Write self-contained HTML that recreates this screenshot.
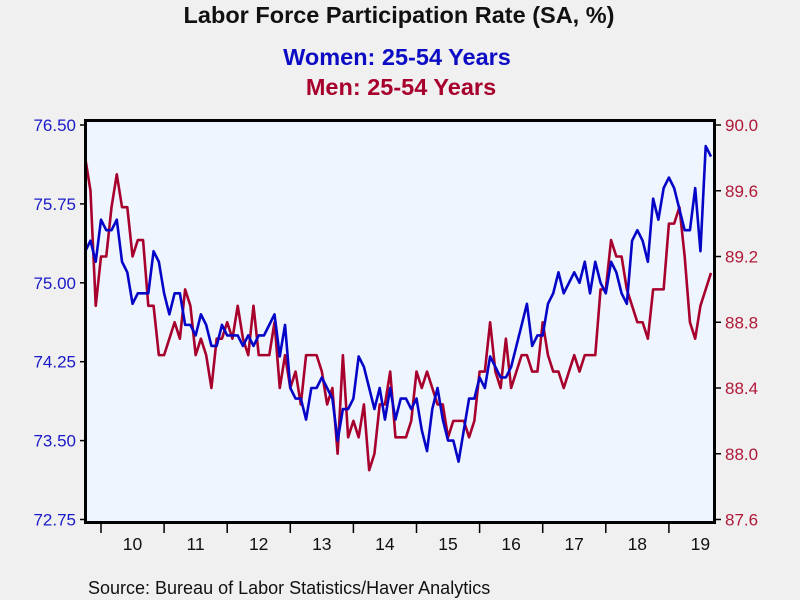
<!DOCTYPE html>
<html><head><meta charset="utf-8"><style>
body{margin:0;background:#f0f0f0;}
svg{display:block;font-family:"Liberation Sans",Arial,sans-serif;}
</style></head><body>
<svg id="chart" width="800" height="600" viewBox="0 0 800 600" xmlns="http://www.w3.org/2000/svg">
<rect x="0" y="0" width="800" height="600" fill="#f0f0f0"/>
<text x="399" y="23" text-anchor="middle" font-size="23.5" font-weight="bold" fill="#111">Labor Force Participation Rate (SA, %)</text>
<text x="397" y="65" text-anchor="middle" font-size="23.5" font-weight="bold" fill="#0c0cc4">Women: 25-54 Years</text>
<text x="401" y="95" text-anchor="middle" font-size="23.5" font-weight="bold" fill="#a8002c">Men: 25-54 Years</text>
<rect x="85.5" y="120.5" width="629" height="402" fill="#eef5ff"/>
<g id="axes"></g>
<g id="series"></g>
<rect x="85.5" y="120.5" width="629" height="402" fill="none" stroke="#000" stroke-width="3"/>
<text x="88" y="594" font-size="18" fill="#111">Source:  Bureau of Labor Statistics/Haver Analytics</text>
</svg>
<script>
const yearLabels=["10","11","12","13","14","15","16","17","18","19"];
const leftTicks=[72.75,73.50,74.25,75.00,75.75,76.50];
const rightTicks=[87.6,88.0,88.4,88.8,89.2,89.6,90.0];
const women=[75.3,75.4,75.2,75.6,75.5,75.5,75.6,75.2,75.1,74.8,74.9,74.9,74.9,75.3,75.2,74.9,74.7,74.9,74.9,74.6,74.6,74.5,74.7,74.6,74.4,74.4,74.6,74.5,74.5,74.5,74.4,74.5,74.4,74.5,74.5,74.6,74.7,74.3,74.6,74.0,73.9,73.9,73.7,74.0,74.0,74.1,74.0,73.9,73.5,73.8,73.8,73.9,74.3,74.2,74.0,73.8,74.0,73.7,74.0,73.7,73.9,73.9,73.8,73.9,73.6,73.4,73.8,74.0,73.7,73.5,73.5,73.3,73.6,73.9,73.9,74.1,74.0,74.3,74.2,74.1,74.1,74.2,74.4,74.6,74.8,74.4,74.5,74.5,74.8,74.9,75.1,74.9,75.0,75.1,75.0,75.2,74.9,75.2,75.0,74.9,75.2,75.1,74.9,74.8,75.4,75.5,75.4,75.2,75.8,75.6,75.9,76.0,75.9,75.7,75.5,75.5,75.9,75.3,76.3,76.2];
const men=[89.8,89.6,88.9,89.2,89.2,89.5,89.7,89.5,89.5,89.2,89.3,89.3,88.9,88.9,88.6,88.6,88.7,88.8,88.7,89.0,88.9,88.6,88.7,88.6,88.4,88.7,88.7,88.8,88.7,88.9,88.7,88.6,88.9,88.6,88.6,88.6,88.8,88.4,88.6,88.4,88.5,88.3,88.6,88.6,88.6,88.5,88.3,88.4,88.0,88.6,88.1,88.2,88.1,88.3,87.9,88.0,88.3,88.3,88.5,88.1,88.1,88.1,88.2,88.5,88.4,88.5,88.4,88.3,88.3,88.1,88.2,88.2,88.2,88.1,88.2,88.5,88.5,88.8,88.5,88.4,88.7,88.4,88.5,88.6,88.6,88.5,88.5,88.8,88.6,88.5,88.5,88.4,88.5,88.6,88.5,88.6,88.6,88.6,89.0,89.0,89.3,89.2,89.2,89.0,88.9,88.8,88.8,88.7,89.0,89.0,89.0,89.4,89.4,89.5,89.2,88.8,88.7,88.9,89.0,89.1];

const NS="http://www.w3.org/2000/svg";
const firstMonthOffset=-3; // first point = Oct 2009
function xMonth(i){return 101+(i+firstMonthOffset)*63.1/12;}
function xYearStart(k){return 101+k*63.1;}
function yLeft(v){return 519.5-(v-72.75)/(76.5-72.75)*394.5;}
function yRight(v){return 519.5-(v-87.6)/(90.0-87.6)*394.5;}
const axes=document.getElementById('axes');
const series=document.getElementById('series');
function mk(tag,attrs,parent){const e=document.createElementNS(NS,tag);for(const k in attrs)e.setAttribute(k,attrs[k]);parent.appendChild(e);return e;}

leftTicks.forEach(v=>{
  const y=yLeft(v);
  const t=mk('line',{x1:80,x2:85,y1:y,y2:y,stroke:'#000','stroke-width':1.5},axes);
  
  
  const l=mk('text',{x:76,y:y+6,'text-anchor':'end','font-size':17,fill:'#1a1ac8'},axes);
  
  
  l.textContent=v.toFixed(2);
});
rightTicks.forEach(v=>{
  const y=yRight(v);
  const t=mk('line',{x1:715,x2:721,y1:y,y2:y,stroke:'#000','stroke-width':1.5},axes);
  
  
  const l=mk('text',{x:725,y:y+6,'font-size':17,fill:'#b01838'},axes);
  
  
  l.textContent=v.toFixed(1);
});
yearLabels.forEach((lab,k)=>{
  const x=xYearStart(k);
  const t=mk('line',{x1:x,x2:x,y1:523,y2:533,stroke:'#000','stroke-width':1.5},axes);
  
  
  const l=mk('text',{x:x+31.5,y:550,'text-anchor':'middle','font-size':17.5,fill:'#111'},axes);
  
  
  l.textContent=lab;
});
function line(data,yf,color,name){
  const d=data.map((v,i)=>(i?'L':'M')+xMonth(i).toFixed(2)+','+yf(v).toFixed(2)).join(' ');
  const p=mk('path',{d:d,fill:'none',stroke:color,'stroke-width':2.6,'stroke-linejoin':'round'},series);
  
  
}
line(men,yRight,'#a8002c','men-series-line');
line(women,yLeft,'#0505c8','women-series-line');
</script>
</body></html>
